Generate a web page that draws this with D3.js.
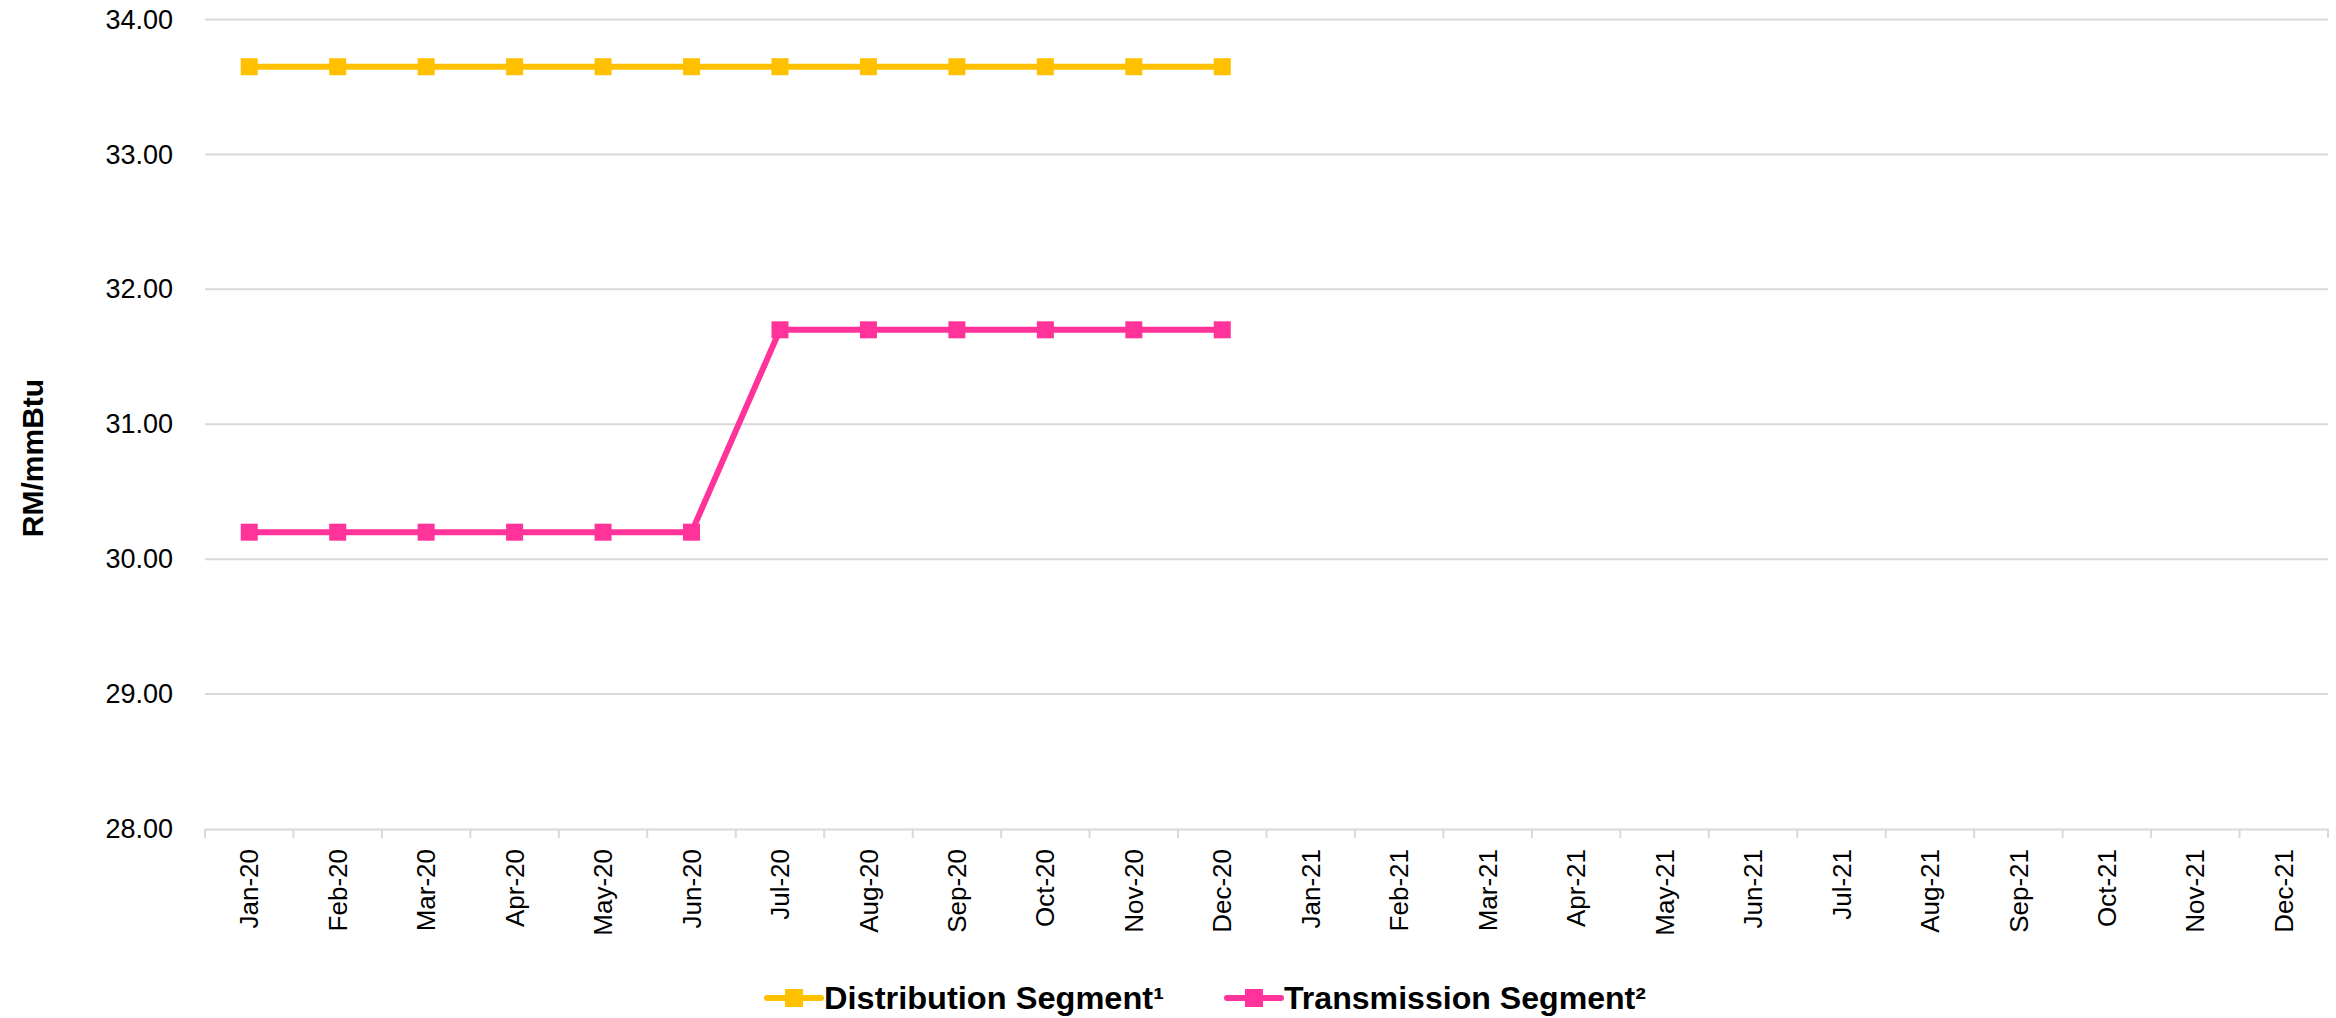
<!DOCTYPE html>
<html>
<head>
<meta charset="utf-8">
<script src="https://cdn.jsdelivr.net/npm/d3@7"></script>
<style>
  body { margin: 0; background: #fff; }
  svg { display: block; font-family: "Liberation Sans", Arial, sans-serif; }
</style>
</head>
<body>
<svg id="chart" width="2336" height="1018"></svg>
<script>
// chart data
const months = ["Jan-20","Feb-20","Mar-20","Apr-20","May-20","Jun-20","Jul-20","Aug-20","Sep-20","Oct-20","Nov-20","Dec-20",
                "Jan-21","Feb-21","Mar-21","Apr-21","May-21","Jun-21","Jul-21","Aug-21","Sep-21","Oct-21","Nov-21","Dec-21"];
const distribution = [33.65,33.65,33.65,33.65,33.65,33.65,33.65,33.65,33.65,33.65,33.65,33.65,
                      null,null,null,null,null,null,null,null,null,null,null,null];
const transmission = [30.20,30.20,30.20,30.20,30.20,30.20,31.70,31.70,31.70,31.70,31.70,31.70,
                      null,null,null,null,null,null,null,null,null,null,null,null];
const yTicks = [28,29,30,31,32,33,34];
const seriesNames = ["Distribution Segment\u00B9", "Transmission Segment\u00B2"];
const seriesColors = ["#FFC000", "#FF3399"];

const svg = d3.select('#chart');
const margin = ({top: 19.5, right: 8, bottom: 189, left: 205});
const width = 2336, height = 1018;

const x = d3.scaleBand()
    .domain(months)
    .range([margin.left, width - margin.right])
    .padding(0);

const y = d3.scaleLinear()
    .domain([28, 34])
    .range([height - margin.bottom, margin.top]);

const cx = m => x(m) + x.bandwidth() / 2;

// gridlines
svg.append("g")
    .selectAll("line")
    .data(yTicks.slice(1))
    .join("line")
        .attr("x1", margin.left)
        .attr("x2", width - margin.right)
        .attr("y1", d => y(d))
        .attr("y2", d => y(d))
        .attr("stroke", "#D9D9D9")
        .attr("stroke-width", 2);

// y axis labels
const yAxis = g => g
    .attr("transform", `translate(${margin.left},0)`)
    .call(d3.axisLeft(y).tickValues(yTicks).tickFormat(d3.format(".2f")).tickSize(0).tickPadding(32))
    .call(g => g.select(".domain").remove())
    .call(g => g.selectAll("text").style("font-size", "27px").attr("fill", "#000"));
svg.append("g").call(yAxis);

// x axis
const xAxis = g => g
    .attr("transform", `translate(0,${y(28)})`)
    .call(d3.axisBottom(x).tickSize(0))
    .call(g => g.select(".domain").attr("stroke", "#D9D9D9").attr("stroke-width", 2))
    .call(g => g.selectAll("text")
        .style("font-size", "26px")
        .attr("fill", "#000")
        .attr("text-anchor", "end")
        .attr("transform", "rotate(-90)")
        .attr("x", -20)
        .attr("y", 0)
        .attr("dy", "0.35em"));
svg.append("g").call(xAxis);

// boundary ticks
svg.append("g")
    .selectAll("line")
    .data(months.concat([null]))
    .join("line")
        .attr("x1", (d, i) => i < months.length ? x(d) : x.range()[1])
        .attr("x2", (d, i) => i < months.length ? x(d) : x.range()[1])
        .attr("y1", y(28))
        .attr("y2", y(28) + 9)
        .attr("stroke", "#D9D9D9")
        .attr("stroke-width", 2);

// y axis title
svg.append("text")
    .attr("transform", `translate(32,458) rotate(-90)`)
    .attr("text-anchor", "middle")
    .attr("dy", "0.35em")
    .style("font-size", "30px")
    .style("font-weight", "bold")
    .text("RM/mmBtu");

// lines + markers
const series = [distribution, transmission];
const line = d3.line()
    .defined(d => d.v !== null)
    .x(d => cx(d.m))
    .y(d => y(d.v));

series.forEach((vals, s) => {
    const pts = months.map((m, i) => ({m: m, v: vals[i]}));
    svg.append("path")
        .datum(pts)
        .attr("fill", "none")
        .attr("stroke", seriesColors[s])
        .attr("stroke-width", 6)
        .attr("stroke-linejoin", "round")
        .attr("d", line);
    svg.append("g")
        .attr("fill", seriesColors[s])
        .selectAll("rect")
        .data(pts.filter(d => d.v !== null))
        .join("rect")
            .attr("x", d => cx(d.m) - 8.5)
            .attr("y", d => y(d.v) - 8.5)
            .attr("width", 17)
            .attr("height", 17);
});

// legend
const legendX = [767, 1227];
const legendW = [340, 362];
const legend = svg.append("g");
seriesNames.forEach((name, s) => {
    const lx = legendX[s], ly = 998;
    legend.append("line")
        .attr("x1", lx).attr("x2", lx + 54)
        .attr("y1", ly).attr("y2", ly)
        .attr("stroke", seriesColors[s])
        .attr("stroke-width", 6)
        .attr("stroke-linecap", "round");
    legend.append("rect")
        .attr("x", lx + 27 - 9).attr("y", ly - 9)
        .attr("width", 18).attr("height", 18)
        .attr("fill", seriesColors[s]);
    legend.append("text")
        .attr("x", lx + 57)
        .attr("y", ly)
        .attr("dy", "0.35em")
        .attr("textLength", legendW[s])
        .attr("lengthAdjust", "spacingAndGlyphs")
        .style("font-size", "31px")
        .style("font-weight", "bold")
        .text(name);
});
</script>
</body>
</html>
